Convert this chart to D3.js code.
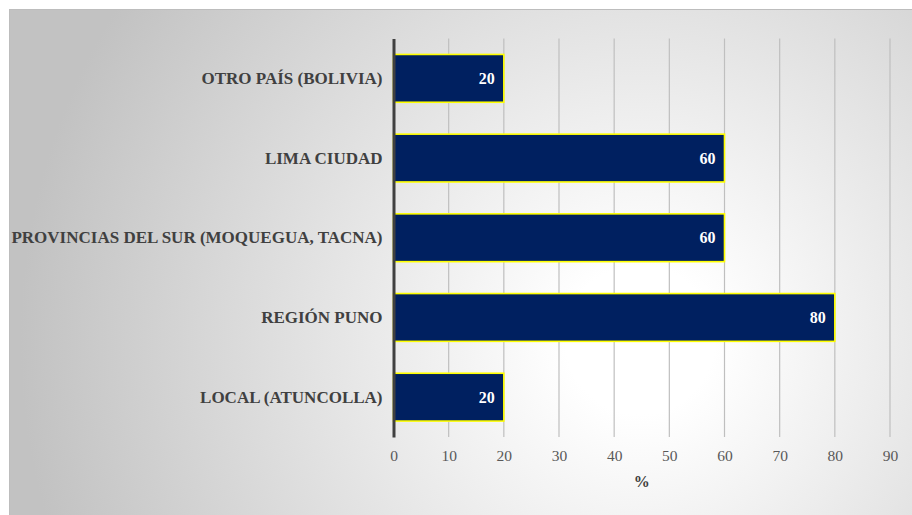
<!DOCTYPE html>
<html>
<head>
<meta charset="utf-8">
<script src="https://cdn.jsdelivr.net/npm/d3@7"></script>
<style>
body { margin: 0; background: #fff; }
svg { display: block; }
</style>
</head>
<body>
<script>
// data
var categories = ['OTRO PAÍS (BOLIVIA)', 'LIMA CIUDAD', 'PROVINCIAS DEL SUR (MOQUEGUA, TACNA)', 'REGIÓN PUNO', 'LOCAL (ATUNCOLLA)'];
var values = [20, 60, 60, 80, 20];
var tickValues = [0, 10, 20, 30, 40, 50, 60, 70, 80, 90];
var axisTitle = '%';

var width = 912, height = 515;
var font = 'Liberation Serif';

var svg = d3.select('body').append('svg')
	.attr('width', width)
	.attr('height', height)
	.attr('font-family', font);

var defs = svg.append('defs');
var grad = defs.append('radialGradient')
	.attr('id', 'bg')
	.attr('gradientUnits', 'userSpaceOnUse')
	.attr('cx', 640).attr('cy', 340).attr('r', 620);
grad.append('stop').attr('offset', 0.12).attr('stop-color', '#ffffff');
grad.append('stop').attr('offset', 1).attr('stop-color', '#c2c2c2');

// chart area
svg.append('rect')
	.attr('x', 9.5).attr('y', 9.5)
	.attr('width', width - 9).attr('height', height - 9)
	.attr('fill', 'url(#bg)')
	.attr('stroke', '#bdbdbd')
	.attr('stroke-width', 1);

var x = d3.scaleLinear().domain([0, 90]).range([393.5, 890]);
var y = d3.scaleBand().domain(categories).range([38.5, 437]).paddingInner(0.4).paddingOuter(0.2);

// gridlines
svg.append('g').selectAll('line')
	.data(tickValues.slice(1))
	.join('line')
	.attr('x1', d => x(d)).attr('x2', d => x(d))
	.attr('y1', 38.5).attr('y2', 437)
	.attr('stroke', '#bfbfbf')
	.attr('stroke-width', 1.2);

// bars
svg.append('g').selectAll('rect')
	.data(values)
	.join('rect')
	.attr('x', x(0))
	.attr('y', (d, i) => y(categories[i]))
	.attr('width', d => x(d) - x(0))
	.attr('height', y.bandwidth())
	.attr('fill', '#002060')
	.attr('stroke', '#ffff00')
	.attr('stroke-width', 1.6);

// value labels
svg.append('g').selectAll('text')
	.data(values)
	.join('text')
	.attr('x', d => x(d) - 9)
	.attr('y', (d, i) => y(categories[i]) + y.bandwidth() / 2)
	.attr('dy', '0.35em')
	.attr('text-anchor', 'end')
	.attr('font-weight', 'bold')
	.attr('font-size', 16)
	.attr('fill', '#ffffff')
	.text(d => d);

// vertical axis
var yAxis = svg.append('g')
	.attr('transform', 'translate(' + x(0) + ',0)')
	.call(d3.axisLeft(y).tickSize(0).tickPadding(11))
	.attr('font-family', font);
yAxis.select('.domain').attr('stroke', '#404040').attr('stroke-width', 3);
yAxis.selectAll('text')
	.attr('font-weight', 'bold')
	.attr('font-size', 17)
	.attr('fill', '#404040');

// horizontal axis labels
var xAxis = svg.append('g')
	.attr('transform', 'translate(0,437)')
	.call(d3.axisBottom(x).tickValues(tickValues).tickSize(0).tickPadding(13))
	.attr('font-family', font);
xAxis.select('.domain').remove();
xAxis.selectAll('text')
	.attr('font-size', 15.5)
	.attr('fill', '#595959');

svg.append('text')
	.attr('x', (x(0) + x(90)) / 2)
	.attr('y', 487)
	.attr('text-anchor', 'middle')
	.attr('font-weight', 'bold')
	.attr('font-size', 16)
	.attr('fill', '#404040')
	.text(axisTitle);
</script>
</body>
</html>
